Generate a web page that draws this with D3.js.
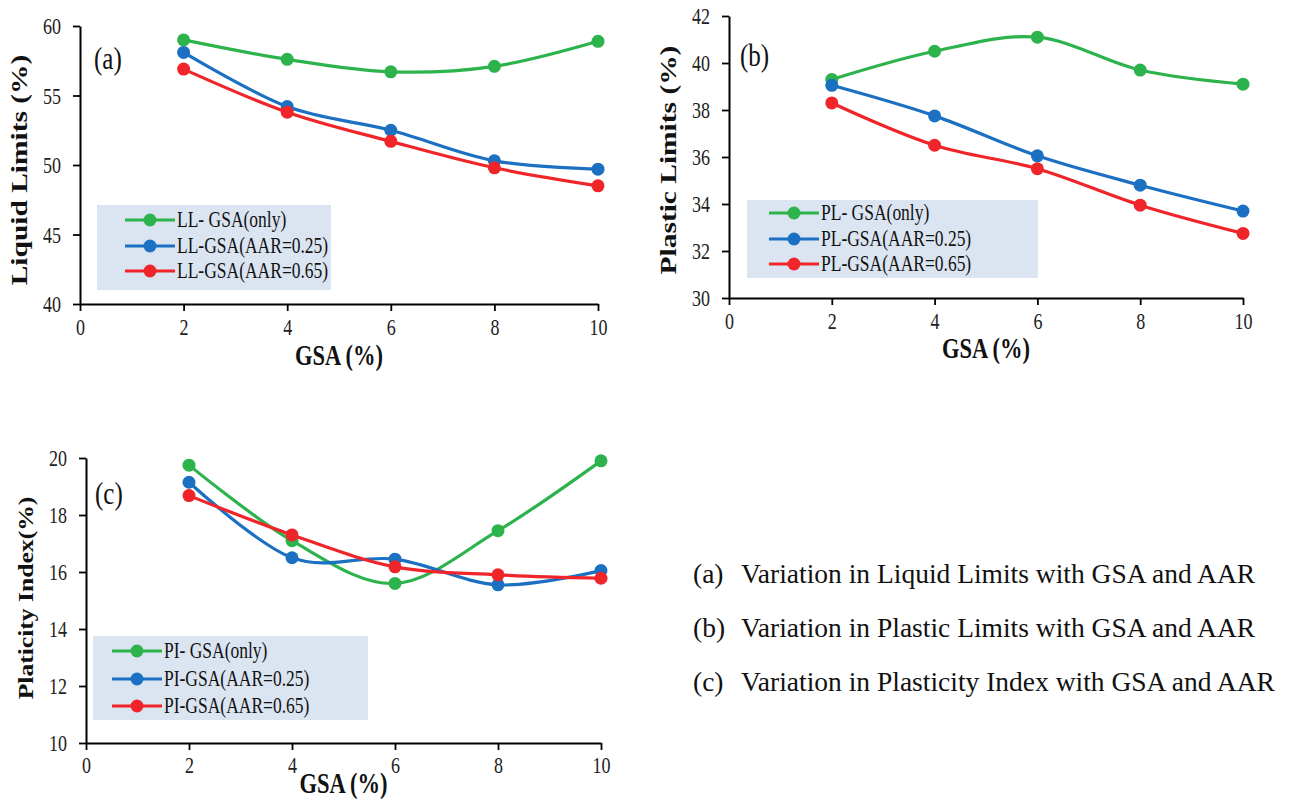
<!DOCTYPE html>
<html>
<head>
<meta charset="utf-8">
<script src="https://cdn.jsdelivr.net/npm/d3@7"></script>
<style>
  body { margin: 0; background: #fff; }
  text { font-family: "Liberation Serif", "Times New Roman", serif; }
</style>
</head>
<body>
<div id="chart"></div>
<script>
// GSA 含量 (x 軸)
var gsa = [2, 4, 6, 8, 10];
var xTicks = [0, 2, 4, 6, 8, 10];

// (a) Liquid Limits
var llOnly = [59.0, 57.6, 56.7, 57.1, 58.9];
var ll025 = [58.1, 54.2, 52.5, 50.3, 49.7];
var ll065 = [56.9, 53.8, 51.7, 49.8, 48.5];
var llTicks = [40, 45, 50, 55, 60];

// (b) Plastic Limits
var plOnly = [39.3, 40.5, 41.1, 39.7, 39.1];
var pl025 = [39.05, 37.75, 36.05, 34.8, 33.7];
var pl065 = [38.3, 36.5, 35.5, 33.95, 32.75];
var plTicks = [30, 32, 34, 36, 38, 40, 42];

// (c) Plasticity Index
var piOnly = [19.75, 17.1, 15.6, 17.45, 19.9];
var pi025 = [19.15, 16.5, 16.45, 15.55, 16.05];
var pi065 = [18.68, 17.3, 16.18, 15.9, 15.78];
var piTicks = [10, 12, 14, 16, 18, 20];

var colors = ["#2cb34c", "#1b70c2", "#f0252a"];
var captionTags = ["(a)", "(b)", "(c)"];
var captions = [
  "Variation in Liquid Limits with GSA and AAR",
  "Variation in Plastic Limits with GSA and AAR",
  "Variation in Plasticity Index with GSA and AAR"
];

var K = 1.28; // 原圖文字被垂直拉長
var width = 1293, height = 802;
var svg = d3.select("#chart").append("svg")
  .attr("width", width)
  .attr("height", height);

// 拉長文字
function stext(parent, x, y, str, size, rot) {
  return parent.append("text")
    .attr("transform", "translate(" + x + "," + y + ") scale(1," + K + ")" + (rot ? " rotate(-90)" : ""))
    .attr("font-size", size)
    .attr("fill", "#111")
    .text(str);
}

// 畫一個面板
function drawPanel(p) {
  var x = d3.scaleLinear().domain([0, 10]).range(p.xr);
  var y = d3.scaleLinear().domain(p.yd).range(p.yr);
  var g = svg.append("g");

  var xAxis = g.append("g")
    .attr("transform", "translate(0," + p.yr[0] + ")")
    .call(d3.axisBottom(x).tickValues(xTicks).tickSize(7).tickSizeOuter(0).tickFormat(d3.format("d")));
  var yAxis = g.append("g")
    .attr("transform", "translate(" + p.xr[0] + ",0)")
    .call(d3.axisLeft(y).tickValues(p.ticks).tickSize(7).tickSizeOuter(0).tickFormat(d3.format("d")));

  [xAxis, yAxis].forEach(function (a) {
    a.select(".domain").attr("stroke", "#000").attr("stroke-width", 2);
    a.selectAll(".tick line").attr("stroke", "#000").attr("stroke-width", 1.8);
    a.selectAll(".tick text")
      .attr("font-family", "Liberation Serif, serif")
      .attr("font-size", 18)
      .attr("fill", "#222")
      .attr("x", 0).attr("y", 0);
  });
  xAxis.selectAll(".tick text")
    .attr("dy", 0)
    .attr("transform", "translate(0," + p.tickDy + ") scale(1," + K + ")");
  yAxis.selectAll(".tick text")
    .attr("dy", "0.34em")
    .attr("transform", "translate(-19,0) scale(1," + K + ")");

  // 軸標題
  stext(g, (p.xr[0] + p.xr[1]) / 2, p.yr[0] + p.xlabDy, "GSA (%)", 22.5)
    .attr("text-anchor", "middle")
    .attr("font-weight", "bold");
  stext(g, p.xr[0] - 53, p.ylabY, p.ylabel, p.ylabSize, true)
    .attr("text-anchor", "middle")
    .attr("font-weight", "bold");

  // 面板標記 (a)(b)(c)
  stext(g, p.tag[1], p.tag[2], p.tag[0], 25);

  // 圖例
  var lg = g.append("g").attr("transform", "translate(" + p.legend[0] + "," + p.legend[1] + ")");
  lg.append("rect")
    .attr("width", p.legend[2])
    .attr("height", p.legend[3])
    .attr("fill", "#dbe5f1");

  var line = d3.line()
    .x(function (d, i) { return x(gsa[i]); })
    .y(function (d) { return y(d); })
    .curve(d3.curveCatmullRom.alpha(0));

  p.series.forEach(function (s, k) {
    g.append("path")
      .datum(s)
      .attr("d", line)
      .attr("fill", "none")
      .attr("stroke", colors[k])
      .attr("stroke-width", 3.2);
    g.selectAll(".pt" + k)
      .data(s)
      .enter().append("circle")
      .attr("cx", function (d, i) { return x(gsa[i]); })
      .attr("cy", function (d) { return y(d); })
      .attr("r", 6.5)
      .attr("fill", colors[k]);

    var ly = p.legendRows[k];
    lg.append("line")
      .attr("x1", p.legendLine[0]).attr("x2", p.legendLine[1])
      .attr("y1", ly).attr("y2", ly)
      .attr("stroke", colors[k]).attr("stroke-width", 3.2);
    lg.append("circle")
      .attr("cx", (p.legendLine[0] + p.legendLine[1]) / 2)
      .attr("cy", ly).attr("r", 6.5)
      .attr("fill", colors[k]);
    stext(lg, p.legendLine[1] + 2, ly + 7, p.names[k], 17.5);
  });
}

drawPanel({
  xr: [80, 598], yd: [40, 60], yr: [304, 26], ticks: llTicks,
  ylabel: "Liquid Limits (%)", ylabY: 170, ylabSize: 23,
  tag: ["(a)", 94, 69], tickDy: 31, xlabDy: 61,
  series: [llOnly, ll025, ll065],
  names: ["LL- GSA(only)", "LL-GSA(AAR=0.25)", "LL-GSA(AAR=0.65)"],
  legend: [97, 205, 234, 85], legendRows: [15, 41, 66], legendLine: [28, 78]
});

drawPanel({
  xr: [729, 1243], yd: [30, 42], yr: [298, 16], ticks: plTicks,
  ylabel: "Plastic Limits (%)", ylabY: 160, ylabSize: 23,
  tag: ["(b)", 740, 66], tickDy: 31, xlabDy: 60,
  series: [plOnly, pl025, pl065],
  names: ["PL- GSA(only)", "PL-GSA(AAR=0.25)", "PL-GSA(AAR=0.65)"],
  legend: [747, 200, 291, 78], legendRows: [13, 39, 64], legendLine: [22, 72]
});

drawPanel({
  xr: [86, 601], yd: [10, 20], yr: [743, 458], ticks: piTicks,
  ylabel: "Platicity Index(%)", ylabY: 598, ylabSize: 20,
  tag: ["(c)", 95, 504], tickDy: 30, xlabDy: 50,
  series: [piOnly, pi025, pi065],
  names: ["PI- GSA(only)", "PI-GSA(AAR=0.25)", "PI-GSA(AAR=0.65)"],
  legend: [93, 636, 275, 84], legendRows: [15, 43, 70], legendLine: [19, 69]
});

// 右下角說明文字
var cap = svg.selectAll(".caption")
  .data(captions)
  .enter().append("text")
  .attr("class", "caption")
  .attr("y", function (d, i) { return 583 + i * 54; })
  .attr("font-size", 27.5)
  .attr("fill", "#111");
cap.append("tspan")
  .attr("x", 693)
  .text(function (d, i) { return captionTags[i]; });
cap.append("tspan")
  .attr("x", 741)
  .text(function (d) { return d; });
</script>
</body>
</html>
